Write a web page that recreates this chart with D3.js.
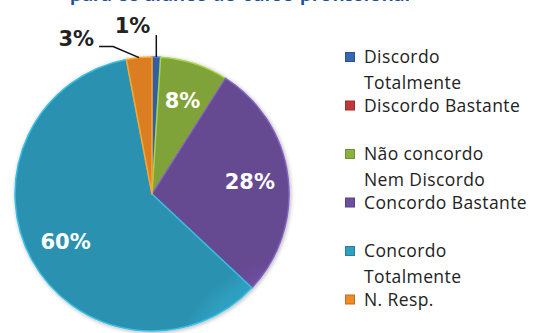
<!DOCTYPE html>
<html><head><meta charset="utf-8">
<script src="https://cdn.jsdelivr.net/npm/d3@7"></script>
<style>html,body{margin:0;padding:0;background:#fff;}svg{display:block;}</style>
</head><body>
<svg id="chart" width="534" height="333"></svg>
<script>
const title = "para os alunos do curso profissional";
const categories = ["Discordo Totalmente","Discordo Bastante","Não concordo Nem Discordo","Concordo Bastante","Concordo Totalmente","N. Resp."];
const legendLines = [["Discordo","Totalmente"],["Discordo Bastante"],["Não concordo","Nem Discordo"],["Concordo Bastante"],["Concordo","Totalmente"],["N. Resp."]];
const values = [1, 0, 8, 28, 60, 3];
const palette = ["#3568b0","#c0383a","#8bb23e","#6e4f9f","#2f9fc0","#ef8a25"];

const svg = d3.select("#chart");
const cx = 152, cy = 194, R = 137;

const defs = svg.append("defs");
palette.forEach((c,i)=>{
  const g = defs.append("radialGradient").attr("id","g"+i)
    .attr("gradientUnits","userSpaceOnUse").attr("cx",cx).attr("cy",cy).attr("r",R);
  g.append("stop").attr("offset","0%").attr("stop-color",d3.color(c).brighter(0.15));
  g.append("stop").attr("offset","85%").attr("stop-color",c);
  g.append("stop").attr("offset","100%").attr("stop-color",d3.color(c).darker(0.25));
});
const f = defs.append("filter").attr("id","sh").attr("x","-10%").attr("y","-10%").attr("width","120%").attr("height","120%");
f.append("feGaussianBlur").attr("in","SourceAlpha").attr("stdDeviation",2);
f.append("feOffset").attr("dx",1).attr("dy",1).attr("result","b");
f.append("feComponentTransfer").append("feFuncA").attr("type","linear").attr("slope",0.3);
const fm = f.append("feMerge"); fm.append("feMergeNode"); fm.append("feMergeNode").attr("in","SourceGraphic");

// title (cut off at top, as in the reference)
svg.append("text").attr("x", 70).attr("y", 1)
  .attr("font-family","Lato, 'Open Sans', sans-serif").attr("font-weight","bold")
  .attr("font-size", 21).attr("fill","#1f4f9a").attr("textLength",340).text(title);

const data = categories.map((c,i)=>({cat:c, v:values[i], i}));
const pie = d3.pie().value(d=>d.v).sort(null);
const arcs = pie(data);
const arc = d3.arc().innerRadius(0).outerRadius(R);
const g = svg.append("g").attr("transform",`translate(${cx},${cy})`);
g.append("g").attr("filter","url(#sh)").selectAll("path").data(arcs.filter(a=>a.data.v>0)).join("path")
  .attr("d",arc).attr("fill",d=>`url(#g${d.data.i})`)
  .attr("stroke",d=>d3.color(palette[d.data.i]).brighter(0.5)).attr("stroke-width",1.5).attr("stroke-linejoin","round");

// inside labels
const labelArc = d3.arc().innerRadius(R*0.72).outerRadius(R*0.72);
arcs.filter(a=>a.data.v>=5).forEach(a=>{
  const [x,y] = labelArc.centroid(a);
  g.append("text").attr("x",x).attr("y",y).attr("dy","0.36em").attr("text-anchor","middle")
    .attr("font-family","'DejaVu Sans', sans-serif").attr("font-weight","bold").attr("font-size",21)
    .attr("fill","#fff").text(a.data.v+"%");
});

// outside labels with leader lines
arcs.filter(a=>a.data.v>0 && a.data.v<5).forEach(a=>{
  const mid = (a.startAngle+a.endAngle)/2;
  const p0 = [Math.sin(mid)*R, -Math.cos(mid)*R];
  let pts, tx, ty, anchor;
  if (Math.sin(mid) >= 0) {
    pts = [p0, [p0[0], p0[1]-22]];
    tx = p0[0]-6; ty = p0[1]-32; anchor="end";
  } else {
    const p1 = [p0[0]-26, p0[1]-11];
    const p2 = [p1[0]-14, p1[1]];
    pts = [p0, p1, p2];
    tx = p2[0]-5; ty = p2[1]-8; anchor="end";
  }
  g.append("path").attr("d", d3.line()(pts)).attr("fill","none").attr("stroke","#111").attr("stroke-width",1.5);
  g.append("text").attr("x",tx).attr("y",ty).attr("dy","0.36em").attr("text-anchor",anchor)
    .attr("font-family","'DejaVu Sans', sans-serif").attr("font-weight","bold").attr("font-size",21)
    .attr("fill","#222").text(a.data.v+"%");
});

// legend
const ly = d3.scalePoint().domain(categories).range([57, 299.5]);
const leg = svg.append("g");
categories.forEach((c,i)=>{
  const y = ly(c);
  leg.append("rect").attr("x",345.5).attr("y",y-4.5).attr("width",9).attr("height",9)
    .attr("fill",palette[i]).attr("stroke",d3.color(palette[i]).darker(0.6)).attr("stroke-width",1);
  legendLines[i].forEach((t,j)=>{
    leg.append("text").attr("x",364).attr("y",y+6+j*26)
      .attr("font-family","'Open Sans', sans-serif").attr("font-size",17.5).attr("letter-spacing","0.4px")
      .attr("fill","#222").text(t);
  });
});
</script>
</body></html>
